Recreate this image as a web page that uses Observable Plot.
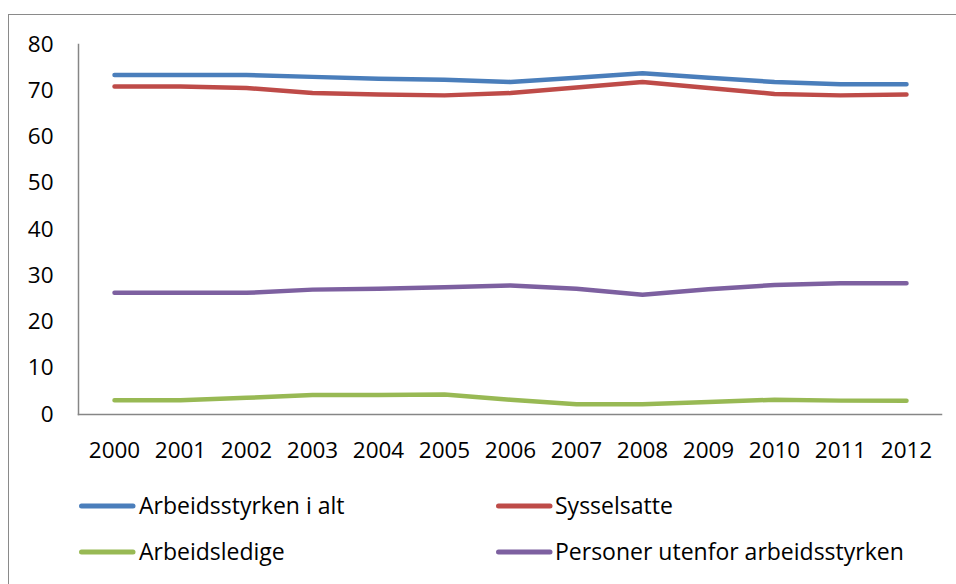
<!DOCTYPE html>
<html>
<head>
<meta charset="utf-8">
<script src="https://cdn.jsdelivr.net/npm/d3@7"></script>
<script src="https://cdn.jsdelivr.net/npm/@observablehq/plot@0.6"></script>
<style>
  body { margin: 0; background: #fff; }
  #wrap { position: relative; width: 956px; height: 584px; overflow: hidden; font-family: "Open Sans", sans-serif; background: #fff; }
  #border { position: absolute; left: 8px; top: 14px; width: 1000px; height: 1000px; border: 1.5px solid #8a8a8a; box-sizing: border-box; }
  #chart { position: absolute; left: 0; top: 0; }
  .sw { position: absolute; }
  .lt { position: absolute; height: 30px; line-height: 30px; font-size: 23px; color: #000; white-space: nowrap; }
</style>
</head>
<body>
<div id="wrap">
  <div id="border"></div>
  <div id="chart"></div>
</div>
<script>
const years = ["2000","2001","2002","2003","2004","2005","2006","2007","2008","2009","2010","2011","2012"];
const seriesNames = ["Arbeidsstyrken i alt", "Sysselsatte", "Arbeidsledige", "Personer utenfor arbeidsstyrken"];
const arbeidsstyrken = [73.4, 73.4, 73.4, 73.0, 72.6, 72.4, 71.9, 72.8, 73.8, 72.8, 71.9, 71.4, 71.4];
const sysselsatte    = [70.9, 70.9, 70.6, 69.5, 69.2, 69.0, 69.5, 70.7, 71.9, 70.6, 69.3, 69.0, 69.2];
const arbeidsledige  = [3.1, 3.1, 3.6, 4.2, 4.2, 4.3, 3.2, 2.2, 2.2, 2.7, 3.2, 3.0, 3.0];
const utenfor        = [26.3, 26.3, 26.3, 27.0, 27.2, 27.5, 27.9, 27.2, 25.9, 27.1, 28.0, 28.4, 28.4];
const yTicks = [0, 10, 20, 30, 40, 50, 60, 70, 80];
const colors = ["#4A7EBB", "#BE4B48", "#98B954", "#7D60A0"];

const seriesValues = [arbeidsstyrken, sysselsatte, arbeidsledige, utenfor];
const data = [];
seriesNames.forEach((s, i) => {
  years.forEach((y, j) => data.push({series: s, year: y, value: seriesValues[i][j]}));
});

const axisColor = "#868686";
const chart = Plot.plot({
  width: 956,
  height: 470,
  marginLeft: 78,
  marginRight: 15,
  marginTop: 44,
  marginBottom: 56,
  style: { fontFamily: "'Open Sans', sans-serif", fontSize: "22.5px", color: "#000", background: "transparent" },
  x: { type: "point", domain: years, padding: 0.5, label: null },
  y: { domain: [0, 80], label: null },
  color: { domain: seriesNames, range: colors },
  marks: [
    Plot.frame({ anchor: "left", stroke: axisColor, strokeWidth: 1.5 }),
    Plot.frame({ anchor: "bottom", stroke: axisColor, strokeWidth: 1.5 }),
    Plot.axisY(yTicks, { tickSize: 0, tickPadding: 25, label: null, fontSize: 22.5 }),
    Plot.axisX({ tickSize: 0, tickPadding: 28, label: null, fontSize: 22.5 }),
    Plot.line(data, { x: "year", y: "value", z: "series", stroke: "series",
      strokeWidth: 4.5, strokeLinecap: "round", strokeLinejoin: "round" })
  ]
});
document.getElementById("chart").appendChild(chart);

// Legend (two columns, two rows)
const wrap = document.getElementById("wrap");
const legPos = [
  {sx: 79, tx: 139, y: 506},
  {sx: 496, tx: 555, y: 506},
  {sx: 79, tx: 139, y: 552},
  {sx: 496, tx: 555, y: 552}
];
seriesNames.forEach((s, i) => {
  const p = legPos[i];
  const ns = "http://www.w3.org/2000/svg";
  const svg = document.createElementNS(ns, "svg");
  svg.setAttribute("class", "sw");
  svg.setAttribute("width", 60);
  svg.setAttribute("height", 10);
  svg.style.left = (p.sx) + "px";
  svg.style.top = (p.y - 5) + "px";
  const ln = document.createElementNS(ns, "line");
  ln.setAttribute("x1", 2.5); ln.setAttribute("x2", 54);
  ln.setAttribute("y1", 5); ln.setAttribute("y2", 5);
  ln.setAttribute("stroke", colors[i]);
  ln.setAttribute("stroke-width", 5);
  ln.setAttribute("stroke-linecap", "round");
  svg.appendChild(ln);
  wrap.appendChild(svg);
  const t = document.createElement("div");
  t.className = "lt";
  t.textContent = s;
  t.style.left = p.tx + "px";
  t.style.top = (p.y - 16) + "px";
  wrap.appendChild(t);
});
</script>
</body>
</html>
